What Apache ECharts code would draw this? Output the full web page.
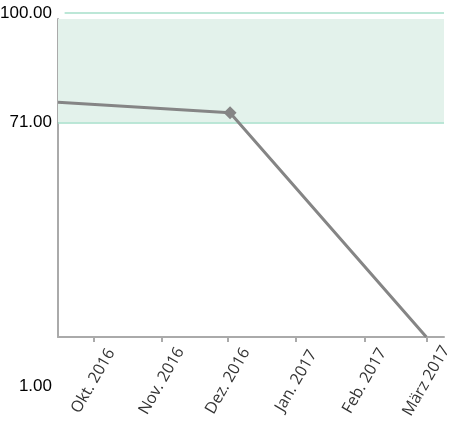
<!DOCTYPE html>
<html><head><meta charset="utf-8">
<script src="https://cdn.jsdelivr.net/npm/echarts@6/dist/echarts.min.js"></script>
<style>html,body{margin:0;padding:0;background:#fff}#c{width:458px;height:433px}</style>
</head><body><div id="c"></div>
<script>
// Data
const dates = ['2016-09-15', '2016-12-02', '2017-03-01'];
const values = [76.3, 73.5, 14.0];
const markerIndex = 1;
const tickDates = ['2016-10-01', '2016-11-01', '2016-12-01', '2017-01-01', '2017-02-01', '2017-03-01'];
const tickLabels = ['Okt. 2016', 'Nov. 2016', 'Dez. 2016', 'Jan. 2017', 'Feb. 2017', 'März 2017'];
const yLabelValues = [1, 71, 100];
const targetLow = 71, targetHigh = 98.4, topLine = 100;
const xMinDate = '2016-09-15', xMaxDate = '2017-03-09', topLineStart = '2016-09-18';

// day number since 2016-10-01
function day(s) {
  const p = s.split('-');
  return Math.round((Date.UTC(+p[0], +p[1] - 1, +p[2]) - Date.UTC(2016, 9, 1)) / 86400000);
}
const xMin = day(xMinDate), xMax = day(xMaxDate);
const tickDays = tickDates.map(day);

const chart = echarts.init(document.getElementById('c'), null, { renderer: 'canvas' });
chart.setOption({
  animation: false,
  backgroundColor: '#fff',
  grid: [
    { left: 58, right: 14, top: 13, bottom: 47, outerBoundsMode: 'none', containLabel: false },
    { left: 58, right: 14, top: 19, bottom: 96, outerBoundsMode: 'none', containLabel: false }
  ],
  xAxis: [
    { type: 'value', gridIndex: 0, min: xMin, max: xMax, show: false },
    {
      type: 'value', gridIndex: 1, min: xMin, max: xMax,
      axisLine: { show: true, onZero: false, lineStyle: { color: '#aaaaaa', width: 2 } },
      axisTick: { show: true, customValues: tickDays, length: 5, lineStyle: { color: '#aaaaaa', width: 2 } },
      splitLine: { show: false },
      axisLabel: {
        customValues: tickDays,
        rotate: 60, align: 'center', verticalAlign: 'middle', margin: 44,
        formatter: function (v) { const i = tickDays.indexOf(v); return i >= 0 ? tickLabels[i] : ''; },
        fontFamily: 'Open Sans', fontSize: 16, color: '#333333'
      }
    }
  ],
  yAxis: [
    {
      type: 'value', gridIndex: 0, min: 1, max: 100,
      axisLine: { show: false }, axisTick: { show: false }, splitLine: { show: false },
      axisLabel: {
        customValues: yLabelValues, margin: 6,
        formatter: function (v) { return Number(v).toFixed(2); },
        fontFamily: 'Liberation Sans', fontSize: 17, color: '#000000'
      }
    },
    {
      type: 'value', gridIndex: 1, min: 0, max: 1,
      axisLine: { show: true, onZero: false, lineStyle: { color: '#aaaaaa', width: 2 } },
      axisTick: { show: false }, splitLine: { show: false }, axisLabel: { show: false }
    }
  ],
  series: [
    {
      type: 'line', xAxisIndex: 0, yAxisIndex: 0,
      data: dates.map(function (d, i) {
        return { value: [day(d), values[i]], symbol: i === markerIndex ? 'diamond' : 'none' };
      }),
      symbolSize: 13,
      lineStyle: { color: '#858585', width: 3 },
      itemStyle: { color: '#858585' },
      z: 5,
      markArea: {
        silent: true,
        itemStyle: { color: '#e3f2eb' },
        data: [[{ yAxis: targetLow }, { yAxis: targetHigh }]]
      },
      markLine: {
        silent: true, symbol: 'none', label: { show: false },
        lineStyle: { color: '#a6dfca', width: 1.5, type: 'solid' },
        data: [
          { yAxis: targetLow },
          [{ coord: [day(topLineStart), topLine] }, { coord: [xMax, topLine] }]
        ]
      }
    }
  ]
});
</script>
</body></html>
